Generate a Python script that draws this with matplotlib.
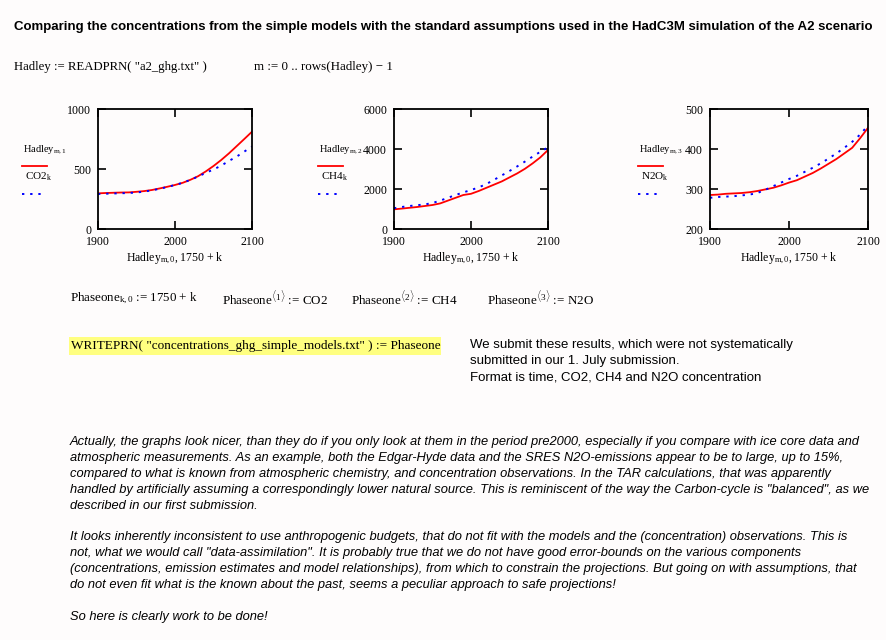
import numpy as np
import matplotlib
matplotlib.use('Agg')
import matplotlib.pyplot as plt
from matplotlib.patches import Rectangle

plt.rcParams['mathtext.fontset'] = 'custom'
plt.rcParams['mathtext.rm'] = 'Liberation Serif'
plt.rcParams['mathtext.it'] = 'Liberation Serif:italic'

# data (every 10 years, 1900..2100)
years = np.arange(1900, 2101, 10)
co2_hadley = [297, 300, 302, 304, 305, 310, 316, 325, 338, 352, 367,
              385, 410, 440, 480, 525, 575, 630, 690, 750, 811]
co2_simple = [292, 294, 296, 298, 300, 304, 312, 322, 335, 350, 367,
              385, 410, 437, 468, 496, 528, 567, 603, 645, 688]
ch4_hadley = [983, 1020, 1060, 1100, 1150, 1200, 1280, 1420, 1560, 1700, 1760,
              1900, 2060, 2220, 2380, 2580, 2780, 3010, 3280, 3580, 3950]
ch4_simple = [1040, 1100, 1150, 1190, 1230, 1300, 1420, 1560, 1700, 1830, 1950,
              2080, 2250, 2460, 2680, 2900, 3130, 3370, 3620, 3860, 4080]
n2o_hadley = [285, 286, 288, 289, 290, 292, 295, 299, 303, 309, 316,
              322, 331, 340, 351, 363, 375, 389, 403, 427, 453]
n2o_simple = [278, 280, 281, 282, 284, 286, 290, 298, 307, 316, 325,
              333, 343, 353, 364, 376, 389, 403, 418, 436, 459]

panels = [
    ('1', 'CO2', co2_hadley, co2_simple, [0, 500, 1000]),
    ('2', 'CH4', ch4_hadley, ch4_simple, [0, 2000, 4000, 6000]),
    ('3', 'N2O', n2o_hadley, n2o_simple, [200, 300, 400, 500]),
]
# pixel boxes (left, right) of each graph, and x of its legend
boxes = [(98, 252, 22), (394, 548, 318), (710, 868, 638)]

W, H = 886, 640
fig = plt.figure(figsize=(W / 100, H / 100), dpi=100)
fig.patch.set_facecolor('#fefcfc')

def fx(x):
    return x / W

def fy(y):
    return 1 - y / H

serif = 'Liberation Serif'
sans = 'Liberation Sans'

fig.text(fx(14), fy(27), 'Comparing the concentrations from the simple models with the standard '
         'assumptions used in the HadC3M simulation of the A2 scenario',
         family=sans, weight='bold', fontsize=9.5, va='center')

fig.text(fx(14), fy(67), 'Hadley := READPRN( "a2_ghg.txt" )', family=serif, fontsize=9.2, va='center')
fig.text(fx(254), fy(67), 'm := 0 .. rows(Hadley) \u2212 1', family=serif, fontsize=9.4, va='center')

top, bottom = 109, 229
for (col, name, had, sim, yt), (l, r, lx) in zip(panels, boxes):
    ax = fig.add_axes([fx(l), fy(bottom), (r - l) / W, (bottom - top) / H])
    ax.set_facecolor('#fefcfc')
    ax.plot(years, had, color='red', lw=1.3)
    ax.plot(years, sim, color='blue', lw=1.4, linestyle=(0, (1.2, 3)))
    ax.set_xlim(1900, 2100)
    ax.set_ylim(yt[0], yt[-1])
    ax.set_xticks([1900, 2000, 2100])
    ax.set_yticks(yt)
    ax.tick_params(direction='in', length=6, width=1.2, top=True, right=True,
                   labelsize=8.6, pad=5)
    for lab in ax.get_xticklabels() + ax.get_yticklabels():
        lab.set_family(serif)
    for s in ax.spines.values():
        s.set_linewidth(1.3)
    ax.set_xlabel(r'$\mathrm{Hadley}_{\mathrm{m,0}}$, 1750 + k', family=serif, fontsize=8.5, labelpad=2)

    fig.text(fx(lx + 1), fy(150), r'$\mathrm{Hadley}_{\mathrm{m,%s}}$' % col, family=serif, fontsize=7.5, va='center')
    fig.add_artist(plt.Line2D([fx(lx), fx(lx + 25)], [fy(166), fy(166)], color='red', lw=1.3))
    fig.text(fx(lx + 3), fy(177), r'$\mathrm{%s}_{\mathrm{k}}$' % name, family=serif, fontsize=8, va='center')
    fig.add_artist(plt.Line2D([fx(lx), fx(lx + 22)], [fy(194), fy(194)], color='blue', lw=1.4,
                              linestyle=(0, (1.2, 3))))

fig.text(fx(70), fy(298), r'$\mathrm{Phaseone}_{\mathrm{k,0}}$ := 1750 + k', family=serif, fontsize=9.4, va='center')
fig.text(fx(222), fy(298), r'$\mathrm{Phaseone}^{\langle 1\rangle}$ := CO2', family=serif, fontsize=9.4, va='center')
fig.text(fx(351), fy(298), r'$\mathrm{Phaseone}^{\langle 2\rangle}$ := CH4', family=serif, fontsize=9.4, va='center')
fig.text(fx(487), fy(298), r'$\mathrm{Phaseone}^{\langle 3\rangle}$ := N2O', family=serif, fontsize=9.4, va='center')

fig.add_artist(Rectangle((fx(69), fy(355)), (441 - 69) / W, (355 - 337) / H,
                         transform=fig.transFigure, facecolor='#ffff80', edgecolor='none'))
fig.text(fx(71), fy(346), 'WRITEPRN( "concentrations_ghg_simple_models.txt" ) := Phaseone',
         family=serif, fontsize=9.5, va='center')

side = ['We submit these results, which were not systematically',
        'submitted in our 1. July submission.',
        'Format is time, CO2, CH4 and N2O concentration']
for i, line in enumerate(side):
    fig.text(fx(470), fy(345 + 16 * i), line, family=sans, fontsize=9.5, va='center')

para1 = ['Actually, the graphs look nicer, than they do if you only look at them in the period pre2000, '
         'especially if you compare with ice core data and',
         'atmospheric measurements. As an example, both the Edgar-Hyde data and the SRES N2O-emissions '
         'appear to be to large, up to 15%,',
         'compared to what is known from atmospheric chemistry, and concentration observations. In the TAR '
         'calculations, that was apparently',
         'handled by artificially assuming a correspondingly lower natural source. This is reminiscent of the '
         'way the Carbon-cycle is "balanced", as we',
         'described in our first submission.']
para2 = ['It looks inherently inconsistent to use anthropogenic budgets, that do not fit with the models '
         'and the (concentration) observations. This is',
         'not, what we would call "data-assimilation". It is probably true that we do not have good '
         'error-bounds on the various components',
         '(concentrations, emission estimates and model relationships), from which to constrain the '
         'projections. But going on with assumptions, that',
         'do not even fit what is the known about the past, seems a peculiar approach to safe projections!']
for i, line in enumerate(para1):
    fig.text(fx(70), fy(442 + 16 * i), line, family=sans, style='italic', fontsize=9.3, va='center')
for i, line in enumerate(para2):
    fig.text(fx(70), fy(537 + 16 * i), line, family=sans, style='italic', fontsize=9.3, va='center')
fig.text(fx(70), fy(617), 'So here is clearly work to be done!', family=sans, style='italic', fontsize=9.3, va='center')

plt.savefig('out.png', dpi=100, facecolor=fig.get_facecolor())
